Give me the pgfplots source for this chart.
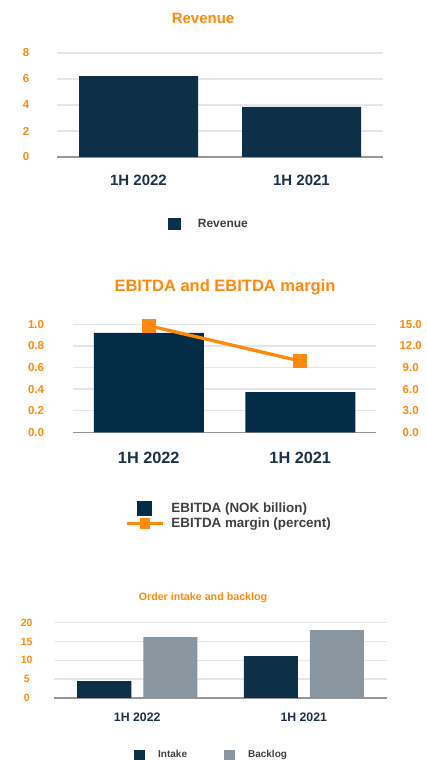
\documentclass[border=0pt]{standalone}
\usepackage{fontspec}
\setmainfont{Liberation Sans}
\usepackage{pgfplots}
\pgfplotsset{compat=1.18}

\definecolor{navy}{RGB}{14,47,72}
\definecolor{navyb}{RGB}{4,44,70}
\definecolor{slate}{RGB}{138,150,159}
\definecolor{orng}{RGB}{255,137,10}
\definecolor{gridc}{RGB}{230,230,230}
\definecolor{axisc}{RGB}{150,150,150}
\definecolor{catc}{RGB}{28,50,72}
\definecolor{legc}{RGB}{64,64,64}

\pgfplotsset{
  every axis title shift=0pt,
  panel/.style={
    scale only axis, anchor=south west,
    axis lines*=left,
    x axis line style={axisc, line width=1.5pt, -},
    y axis line style={draw=none},
    major tick length=0pt,
    ymajorgrids, grid style={gridc, line width=1.5pt},
    xmin=-0.5, xmax=1.5, ymin=0,
    xtick={0,1}, xticklabels={1H 2022,1H 2021},
    /pgf/number format/assume math mode=true,
    legend cell align=left,
  },
}

\begin{document}
\begin{tikzpicture}
\useasboundingbox (0pt,0pt) rectangle (426pt,760pt);

% Revenue
\begin{axis}[panel,
  at={(57pt,603pt)}, width=326pt, height=104pt,
  ymax=8, ytick={0,2,4,6,8},
  ybar, bar width=119pt,
  yticklabel style={font=\bfseries\fontsize{11.5}{12}\selectfont, text=orng, anchor=center, xshift=-31pt},
  xticklabel style={font=\bfseries\fontsize{15}{16}\selectfont, text=catc, anchor=base, yshift=-28.3pt},
  title={Revenue},
  title style={font=\bfseries\fontsize{15}{16}\selectfont, text=orng, at={(0.448,1.286)}, anchor=base},
  legend style={draw=none, fill=none, inner sep=0pt, nodes={inner sep=0pt},
    font=\bfseries\fontsize{12}{13}\selectfont, text=legc,
    at={(0.3405,-0.644)}, anchor=west,
    /tikz/every odd column/.append style={column sep=17pt}},
]
\addplot[fill=navy, draw=none,
  legend image code/.code={\fill[navy] (-6.35pt,-6.35pt) rectangle (6.35pt,6.35pt);}]
  coordinates {(0,6.23) (1,3.85)};
\addlegendentry{Revenue}
\end{axis}

% EBITDA
\begin{axis}[panel,
  at={(73pt,327.7pt)}, width=303pt, height=108pt,
  ymax=1.0, ytick={0,0.2,0.4,0.6,0.8,1.0},
  yticklabel style={/pgf/number format/.cd, fixed, fixed zerofill, precision=1, /tikz/.cd,
    font=\bfseries\fontsize{11.5}{12}\selectfont, text=orng, anchor=center, xshift=-37pt},
  ybar, bar width=110pt,
  xticklabel style={font=\bfseries\fontsize{16.3}{17}\selectfont, text=catc, anchor=base, yshift=-31pt},
  title={EBITDA and EBITDA margin},
  title style={font=\bfseries\fontsize{16.5}{17}\selectfont, text=orng, at={(0.5017,1.308)}, anchor=base},
  legend style={draw=none, fill=none, inner sep=0pt, nodes={inner sep=0pt},
    font=\bfseries\fontsize{13.4}{14}\selectfont, text=legc,
    at={(0.1716,-0.766)}, anchor=west, row sep=1.5pt,
    /tikz/every odd column/.append style={column sep=7pt}},
]
\addplot[fill=navyb, draw=none,
  legend image code/.code={\fill[navyb] (-7.5pt,-7.5pt) rectangle (7.5pt,7.5pt);}]
  coordinates {(0,0.92) (1,0.373)};
\addlegendentry{EBITDA (NOK billion)}
\addlegendimage{legend image code/.code={
  \draw[orng, line width=3.3pt] (-18pt,0pt) -- (18pt,0pt);
  \fill[orng] (-4.6pt,-4.6pt) rectangle (4.6pt,4.6pt);}}
\addlegendentry{EBITDA margin (percent)}
\end{axis}
\begin{axis}[
  scale only axis, anchor=south west,
  at={(73pt,327.7pt)}, width=303pt, height=108pt,
  xmin=-0.5, xmax=1.5, ymin=0, ymax=15,
  axis x line=none, axis y line*=right,
  y axis line style={draw=none}, major tick length=0pt,
  xtick=\empty, ytick={0,3,6,9,12,15},
  clip=false,
  /pgf/number format/assume math mode=true,
  yticklabel style={/pgf/number format/.cd, fixed, fixed zerofill, precision=1, /tikz/.cd,
    font=\bfseries\fontsize{11.5}{12}\selectfont, text=orng, anchor=center, xshift=34.7pt},
]
\addplot[orng, line width=3.3pt, mark=square*, mark size=5.35pt, mark options={solid}]
  coordinates {(0,14.8) (1,9.9)};
\end{axis}

% Order intake and backlog
\begin{axis}[panel,
  at={(54pt,62pt)}, width=333pt, height=75.3pt,
  ymax=20, ytick={0,5,10,15,20},
  ybar=12pt, bar width=54pt,
  yticklabel style={font=\bfseries\fontsize{10.5}{11}\selectfont, text=orng, anchor=center, xshift=-27.3pt},
  xticklabel style={font=\bfseries\fontsize{12.3}{13}\selectfont, text=catc, anchor=base, yshift=-23.7pt},
  title={Order intake and backlog},
  title style={font=\bfseries\fontsize{10.7}{11}\selectfont, text=orng, at={(0.4474,1.301)}, anchor=base},
  legend columns=-1,
  legend style={draw=none, fill=none, inner sep=0pt, nodes={inner sep=0pt},
    font=\bfseries\fontsize{10}{11}\selectfont, text=legc,
    at={(0.2402,-0.757)}, anchor=west,
    /tikz/every odd column/.append style={column sep=13pt},
    /tikz/every even column/.append style={column sep=37pt}},
]
\addplot[fill=navy, draw=none,
  legend image code/.code={\fill[navy] (-5.5pt,-5.5pt) rectangle (5.5pt,5.5pt);}]
  coordinates {(0,4.5) (1,11.15)};
\addlegendentry{Intake}
\addplot[fill=slate, draw=none,
  legend image code/.code={\fill[slate] (-5.5pt,-5.5pt) rectangle (5.5pt,5.5pt);}]
  coordinates {(0,16.2) (1,18.06)};
\addlegendentry{Backlog}
\end{axis}
\end{tikzpicture}
\end{document}
